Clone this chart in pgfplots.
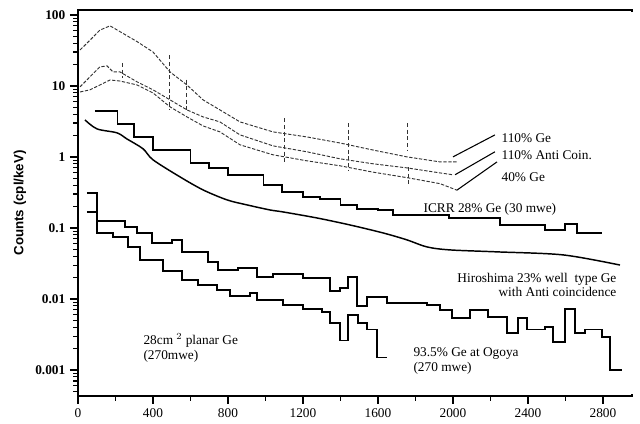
\documentclass[border=0pt]{standalone}
\usepackage{fontspec}
\setmainfont{Liberation Serif}
\setsansfont{Liberation Sans}
\usepackage{pgfplots}
\pgfplotsset{compat=1.18}
\begin{document}
\begin{tikzpicture}
\begin{axis}[
  scale only axis, width=415.5pt, height=289.5pt,
  xmin=0, xmax=2955, ymode=log, ymin=4.3e-4, ymax=117,
  axis line style={line width=1.2pt, black},
  xtick pos=bottom, ytick pos=left,
  tick align=outside,
  xtick={0,400,...,2800}, minor xtick={200,600,...,2600},
  ytick={0.001,0.01,0.1,1,10,100},
  yticklabels={0.001,0.01,0.1,1,10,100},
  minor ytick={0.0005,0.0006,0.0007,0.0008,0.0009,
    0.002,0.003,0.004,0.005,0.006,0.007,0.008,0.009,
    0.02,0.03,0.04,0.05,0.06,0.07,0.08,0.09,
    0.2,0.3,0.4,0.5,0.6,0.7,0.8,0.9,
    2,3,4,5,6,7,8,9,20,30,40,50,60,70,80,90},
  major tick length=6pt, minor tick length=3.5pt,
  major tick style={black, line width=1pt},
  minor tick style={black, line width=0.8pt},
  x tick label style={font=\normalsize},
  y tick label style={font=\bfseries},
  ylabel={Counts (cpl/keV)},
  ylabel style={font=\sffamily\bfseries, at={(axis description cs:-0.105,0.5)}, anchor=center},
  /pgf/number format/assume math mode=true,
  xticklabel={\pgfmathprintnumber[assume math mode=true,1000 sep={}]{\tick}},
  clip=false,
]
\draw[white, line width=2.5pt] (rel axis cs:1,0.004) -- (rel axis cs:1,0.996);
\path (rel axis cs:0,0) ++(-58.5pt,-21pt) coordinate (bbA);
\path (rel axis cs:1,1) ++(6pt,7.5pt) coordinate (bbB);

% 110% Ge
\addplot[black!80, line width=0.7pt, dash pattern=on 2.5pt off 1.2pt] coordinates {
(11,32)(64,44)(117,61)(171,70)(224,58)(315,42)(400,30)(491,15.7)(581,10.3)(667,6.35)(757,4.59)(864,3.11)(1040,2.25)(1221,1.91)(1397,1.57)(1573,1.25)(1755,1.0)(1931,0.85)(2021,0.85)};
% 110% Anti Coin.
\addplot[black!80, line width=0.7pt, dash pattern=on 2.5pt off 1.2pt] coordinates {
(11,9.7)(64,13.4)(117,18.5)(155,19.1)(187,15.7)(224,15.7)(315,11.4)(400,8.8)(491,6.35)(581,4.59)(667,3.66)(757,3.11)(864,2.04)(1040,1.43)(1221,1.18)(1397,0.94)(1573,0.80)(1755,0.70)(1931,0.595)(2000,0.56)};
% 40% Ge
\addplot[black!80, line width=0.7pt, dash pattern=on 2.5pt off 1.2pt] coordinates {
(11,8.2)(64,8.8)(117,10.3)(171,12.1)(224,11.7)(315,10.3)(400,7.96)(491,5.06)(581,3.66)(667,2.73)(757,2.25)(864,1.48)(1040,1.07)(1221,0.88)(1397,0.75)(1573,0.61)(1755,0.51)(1931,0.42)(2021,0.34)};
% error-bar spikes
\addplot[black!80, line width=0.6pt, densely dashed, unbounded coords=jump] coordinates {
(235,21)(235,13)(300,nan)(490,27)(490,4.5)(520,nan)(580,12.2)(580,4.6)(700,nan)(1100,3.5)(1100,0.82)(1200,nan)(1440,3.0)(1440,0.66)(1500,nan)(1755,3.0)(1755,1.25)(1760,nan)(1760,0.72)(1760,0.38)};

% ICRR 28% Ge (30 mwe)
\addplot[black, line width=1.3pt, const plot mark left] coordinates {
(90,4.44)(210,2.92)(300,1.91)(400,1.25)(600,0.823)(700,0.70)(800,0.557)(990,0.403)(1090,0.321)(1200,0.273)(1290,0.256)(1400,0.211)(1490,0.185)(1600,0.179)(1680,0.152)(1980,0.138)(2250,0.110)(2490,0.094)(2597,0.114)(2661,0.085)(2795,0.085)};

% Hiroshima 23% well type Ge
\addplot[black, line width=1.1pt, smooth] coordinates {
(37,3.32)(101,2.48)(208,2.18)(261,1.79)(347,1.30)(400,0.91)(544,0.523)(667,0.343)(795,0.248)(901,0.211)(1024,0.179)(1093,0.168)(1275,0.138)(1451,0.110)(1627,0.085)(1755,0.0678)(1861,0.054)(1984,0.049)(2235,0.046)(2587,0.0417)(2891,0.030)};

% 93.5% Ge at Ogoya
\addplot[black, line width=1.3pt, const plot mark left] coordinates {
(48,0.311)(100,0.1255)(251,0.103)(315,0.085)(395,0.0615)(501,0.0678)(555,0.0459)(693,0.0332)(747,0.0256)(853,0.0273)(955,0.0204)(1040,0.0225)(1200,0.0198)(1344,0.0130)(1397,0.0143)(1440,0.0204)(1488,0.0080)(1541,0.0107)(1648,0.0088)(1861,0.0082)(1931,0.0070)(1995,0.0054)(2091,0.0070)(2187,0.0056)(2288,0.0033)(2347,0.0054)(2395,0.0037)(2491,0.0040)(2533,0.0025)(2597,0.0072)(2651,0.0033)(2704,0.0037)(2795,0.0029)(2837,0.0010)(2901,0.0010)};

% 28 cm2 planar Ge
\addplot[black, line width=1.3pt, const plot mark left] coordinates {
(48,0.168)(100,0.085)(187,0.0747)(267,0.054)(331,0.0354)(453,0.0248)(555,0.0185)(640,0.0157)(741,0.0134)(811,0.0110)(917,0.0122)(955,0.0097)(1093,0.0082)(1200,0.0072)(1301,0.0066)(1344,0.0046)(1397,0.0026)(1440,0.0060)(1493,0.0046)(1541,0.0037)(1595,0.0015)(1648,0.0015)};

% leader lines and labels
\draw[line width=0.8pt] (axis cs:2000,1.0) -- (axis cs:2224,2.04);
\draw[line width=0.8pt] (axis cs:2011,0.56) -- (axis cs:2224,1.18);
\draw[line width=0.8pt] (axis cs:2021,0.34) -- (axis cs:2235,0.85);
\node[anchor=west, inner sep=1pt] at (axis cs:2251,1.85) {110\% Ge};
\node[anchor=west, inner sep=1pt] at (axis cs:2251,1.07) {110\% Anti Coin.};
\node[anchor=west, inner sep=1pt] at (axis cs:2251,0.52) {40\% Ge};
\node[inner sep=1pt] at (axis cs:2197,0.185) {ICRR 28\% Ge (30 mwe)};
\node[anchor=east, align=right, inner sep=1pt, font=\linespread{0.9}\selectfont] at (axis cs:2880,0.0157) {Hiroshima 23\% well\ \ type Ge\\with Anti coincidence};
\node[anchor=west, align=left, inner sep=1pt, font=\linespread{0.9}\selectfont] at (axis cs:1781,0.00134) {93.5\% Ge at Ogoya\\(270 mwe)};
\node[anchor=west, align=left, inner sep=1pt, font=\linespread{0.9}\selectfont] at (axis cs:341,0.00205) {28cm $^{2}$ planar Ge\\(270mwe)};
\end{axis}
\pgfresetboundingbox
\path[use as bounding box] (bbA) rectangle (bbB);
\end{tikzpicture}
\end{document}
